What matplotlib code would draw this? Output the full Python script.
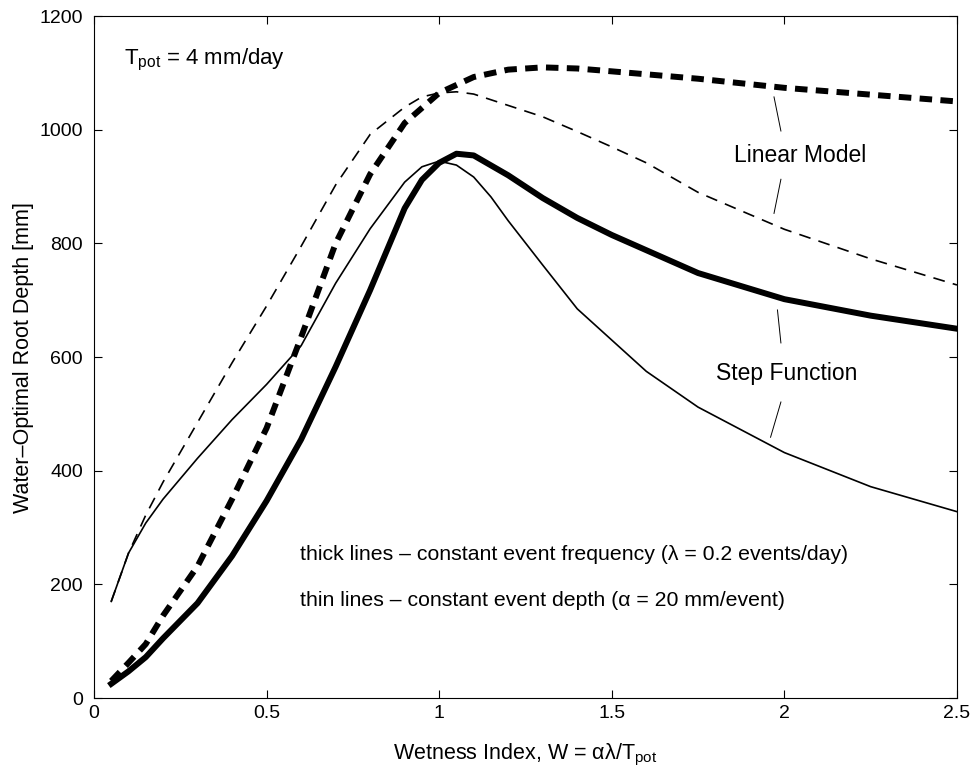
import matplotlib
matplotlib.use('Agg')
import matplotlib.pyplot as plt

plt.rcParams['font.family'] = ['Liberation Sans', 'DejaVu Sans']
plt.rcParams['mathtext.fontset'] = 'custom'
plt.rcParams['mathtext.rm'] = 'Liberation Sans'
plt.rcParams['mathtext.it'] = 'Liberation Sans:italic'
plt.rcParams['lines.scale_dashes'] = False

# thick lines: constant event frequency
x_thick_step = [0.05, 0.1, 0.15, 0.2, 0.3, 0.4, 0.5, 0.6, 0.7, 0.8, 0.9, 0.95,
                1.0, 1.05, 1.1, 1.2, 1.3, 1.4, 1.5, 1.75, 2.0, 2.25, 2.5]
y_thick_step = [25, 47, 72, 105, 167, 250, 347, 455, 583, 718, 862, 912,
                942, 958, 955, 920, 880, 845, 815, 748, 702, 673, 650]

x_thick_lin = [0.05, 0.1, 0.15, 0.2, 0.3, 0.4, 0.5, 0.6, 0.7, 0.8, 0.9, 1.0,
               1.1, 1.2, 1.3, 1.4, 1.5, 1.75, 2.0, 2.25, 2.5]
y_thick_lin = [30, 62, 95, 145, 232, 350, 475, 635, 800, 922, 1012, 1065,
               1093, 1106, 1110, 1108, 1103, 1090, 1074, 1062, 1050]

# thin lines: constant event depth
x_thin_step = [0.05, 0.1, 0.15, 0.2, 0.3, 0.4, 0.5, 0.6, 0.7, 0.8, 0.9, 0.95,
               1.0, 1.05, 1.1, 1.15, 1.2, 1.3, 1.4, 1.5, 1.6, 1.75, 2.0, 2.25, 2.5]
y_thin_step = [170, 255, 308, 350, 422, 490, 552, 620, 730, 826, 908, 935,
               945, 938, 917, 882, 840, 762, 685, 630, 575, 512, 432, 372, 328]

x_thin_lin = [0.05, 0.1, 0.15, 0.2, 0.3, 0.4, 0.5, 0.6, 0.7, 0.8, 0.9, 0.95,
              1.0, 1.05, 1.1, 1.2, 1.3, 1.4, 1.5, 1.6, 1.75, 2.0, 2.25, 2.5]
y_thin_lin = [170, 255, 322, 380, 485, 590, 690, 795, 903, 992, 1040, 1058,
              1065, 1067, 1063, 1043, 1023, 997, 970, 942, 890, 825, 773, 727]

fig = plt.figure(figsize=(9.74, 7.73), dpi=100)
ax = fig.add_axes([0.0965, 0.097, 0.886, 0.882])

ax.plot(x_thin_step, y_thin_step, color='k', lw=1.2)
ax.plot(x_thin_lin, y_thin_lin, color='k', lw=1.2, dashes=(8.5, 6))
ax.plot(x_thick_step, y_thick_step, color='k', lw=4.3)
ax.plot(x_thick_lin, y_thick_lin, color='k', lw=4.3, dashes=(9, 6))

# annotation pointers
ax.plot([1.97, 1.99], [1058, 998], color='k', lw=0.7)
ax.plot([1.99, 1.97], [913, 853], color='k', lw=0.7)
ax.plot([1.98, 1.99], [683, 625], color='k', lw=0.7)
ax.plot([1.99, 1.96], [521, 459], color='k', lw=0.7)

ax.text(2.045, 955, 'Linear Model', fontsize=16.5, ha='center', va='center')
ax.text(2.007, 572, 'Step Function', fontsize=16.5, ha='center', va='center')
ax.text(0.087, 1123, 'T$_{\\mathrm{pot}}$ = 4 mm/day', fontsize=16, ha='left', va='center')
ax.text(0.597, 253, 'thick lines \u2013 constant event frequency (\u03bb = 0.2 events/day)',
        fontsize=15.3, ha='left', va='center')
ax.text(0.597, 172, 'thin lines \u2013 constant event depth (\u03b1 = 20 mm/event)',
        fontsize=15.3, ha='left', va='center')

ax.set_xlim(0, 2.5)
ax.set_ylim(0, 1200)
ax.set_xticks([0, 0.5, 1, 1.5, 2, 2.5])
ax.set_xticklabels(['0', '0.5', '1', '1.5', '2', '2.5'])
ax.set_yticks([0, 200, 400, 600, 800, 1000, 1200])
ax.tick_params(direction='in', top=True, right=True, length=6, width=0.8,
               labelsize=14)
ax.tick_params(axis='y', pad=8)
ax.tick_params(axis='x', pad=5)
ax.set_xlabel('Wetness Index, W = \u03b1\u03bb/T$_{\\mathrm{pot}}$', fontsize=15.5,
              labelpad=14)
ax.set_ylabel('Water\u2013Optimal Root Depth [mm]', fontsize=15.5, labelpad=4)
for s in ax.spines.values():
    s.set_linewidth(0.8)

fig.savefig('out.png', dpi=100)
